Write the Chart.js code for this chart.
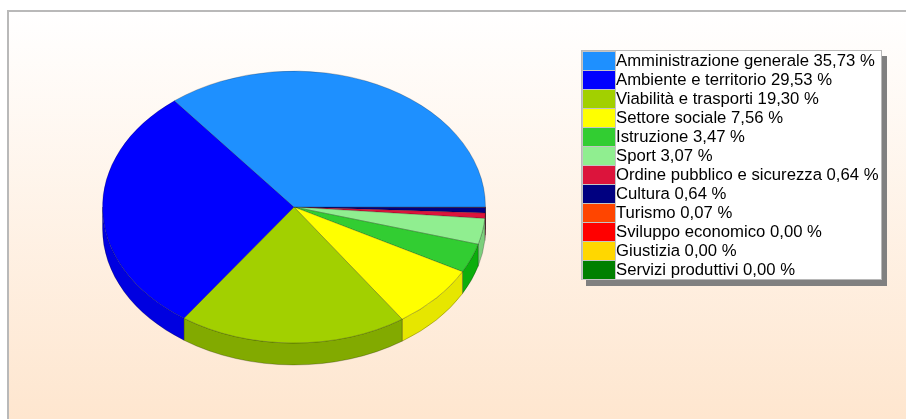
<!DOCTYPE html>
<html><head><meta charset="utf-8">
<script src="https://cdn.jsdelivr.net/npm/chart.js@4"></script>
<style>html,body{margin:0;padding:0;background:#fff;overflow:hidden}#w{position:relative;width:906px;height:419px}</style>
</head><body><div id="w"><canvas id="c" width="906" height="419"></canvas></div>
<script>
const categories = ["Amministrazione generale","Ambiente e territorio","Viabilità e trasporti","Settore sociale","Istruzione","Sport","Ordine pubblico e sicurezza","Cultura","Turismo","Sviluppo economico","Giustizia","Servizi produttivi"];
const values = [35.73,29.53,19.30,7.56,3.47,3.07,0.64,0.64,0.07,0,0,0];
const topColors = ["#1e90ff","#0000ff","#a2d000","#ffff00","#32cd32","#90ee90","#dc143c","#000080","#ff4500","#ff0000","#ffd700","#008000"];
const wallColors = ["#1a7ee0","#0000e0","#82aa00","#e6e600","#0cae0c","#7ccf7c","#c01034","#00006c","#e03c00","#e00000","#e0bd00","#006e00"];

const SQUASH = 0.71, DEPTH = 22;
const labelText = categories.map((c,i)=>c+" "+values[i].toFixed(2).replace(".",",")+" %");

const backdrop = { id:"backdrop", beforeDraw(chart){
  const ctx = chart.ctx, W = chart.width, H = chart.height;
  ctx.save();
  ctx.fillStyle = "#ffffff"; ctx.fillRect(0,0,W,H);
  const g = ctx.createLinearGradient(0,12,0,H);
  g.addColorStop(0,"#ffffff"); g.addColorStop(1,"#fee6cf");
  ctx.fillStyle = g; ctx.fillRect(8,11,W-8,H-11);
  ctx.fillStyle = "#b9b9b9"; ctx.fillRect(7,10,W-7,2); ctx.fillRect(7,10,2,H-10);
  ctx.restore();
}};

function squash(ctx,x,y){ ctx.translate(x,y); ctx.scale(1,SQUASH); ctx.translate(-x,-y); }

const pie3d = { id:"pie3d",
  beforeDatasetsDraw(chart){
    const ctx = chart.ctx, arcs = chart.getDatasetMeta(0).data;
    const {x,y} = arcs[0]; 
    ctx.save();
    squash(ctx,x,y);
    const d = DEPTH/SQUASH;
    arcs.forEach((a,i)=>{
      const s = Math.max(a.startAngle,0), e = Math.min(a.endAngle,Math.PI), r = a.outerRadius;
      if (e <= s) return;
      ctx.beginPath();
      ctx.arc(x,y,r,s,e,false);
      ctx.arc(x,y+d,r,e,s,true);
      ctx.closePath();
      ctx.fillStyle = chart.data.datasets[0].wallColor[i];
      ctx.fill();
      ctx.lineWidth = 1; ctx.strokeStyle = "rgba(0,0,0,.28)"; ctx.stroke();
    });
    ctx.restore();
    ctx.save();
    squash(ctx,x,y);
  },
  afterDatasetsDraw(chart){ chart.ctx.restore(); }
};

const legendBox = { id:"legendBox", afterDraw(chart){
  const ctx = chart.ctx, L=581, T=50, W=301, H=230, PITCH=19;
  ctx.save();
  ctx.fillStyle="#808080"; ctx.fillRect(L+5,T+6,W,H);
  ctx.fillStyle="#ffffff"; ctx.fillRect(L,T,W,H);
  ctx.strokeStyle="#b8b8b8"; ctx.lineWidth=1; ctx.strokeRect(L+.5,T+.5,W-1,H-1);
  ctx.font='16.7px "Liberation Sans"'; ctx.textBaseline="middle"; ctx.textAlign="left";
  labelText.forEach((t,i)=>{
    const y=T+2+PITCH*i;
    ctx.fillStyle=topColors[i]; ctx.fillRect(L+2,y,32,18);
    ctx.strokeStyle="#c4c4c4"; ctx.strokeRect(L+1.5,y-.5,33,19);
    ctx.fillStyle="#000"; ctx.fillText(t,L+35,y+9.5);
  });
  ctx.restore();
}};

// Chart.js runs clockwise; the reference runs counter-clockwise from 3 o'clock.
const rev = a => a.slice().reverse();
new Chart(document.getElementById("c"),{
  type:"pie",
  data:{labels:rev(labelText),datasets:[{
    data:rev(values),
    backgroundColor:rev(topColors),
    wallColor:rev(wallColors),
    borderColor:"rgba(0,0,0,.25)",
    borderWidth:1,
    clip:false
  }]},
  options:{
    responsive:false,animation:false,rotation:90,
    layout:{padding:{left:102,right:420,top:15,bottom:20}},
    plugins:{legend:{display:false},tooltip:{enabled:false}}
  },
  plugins:[backdrop,pie3d,legendBox]
});
</script></body></html>
